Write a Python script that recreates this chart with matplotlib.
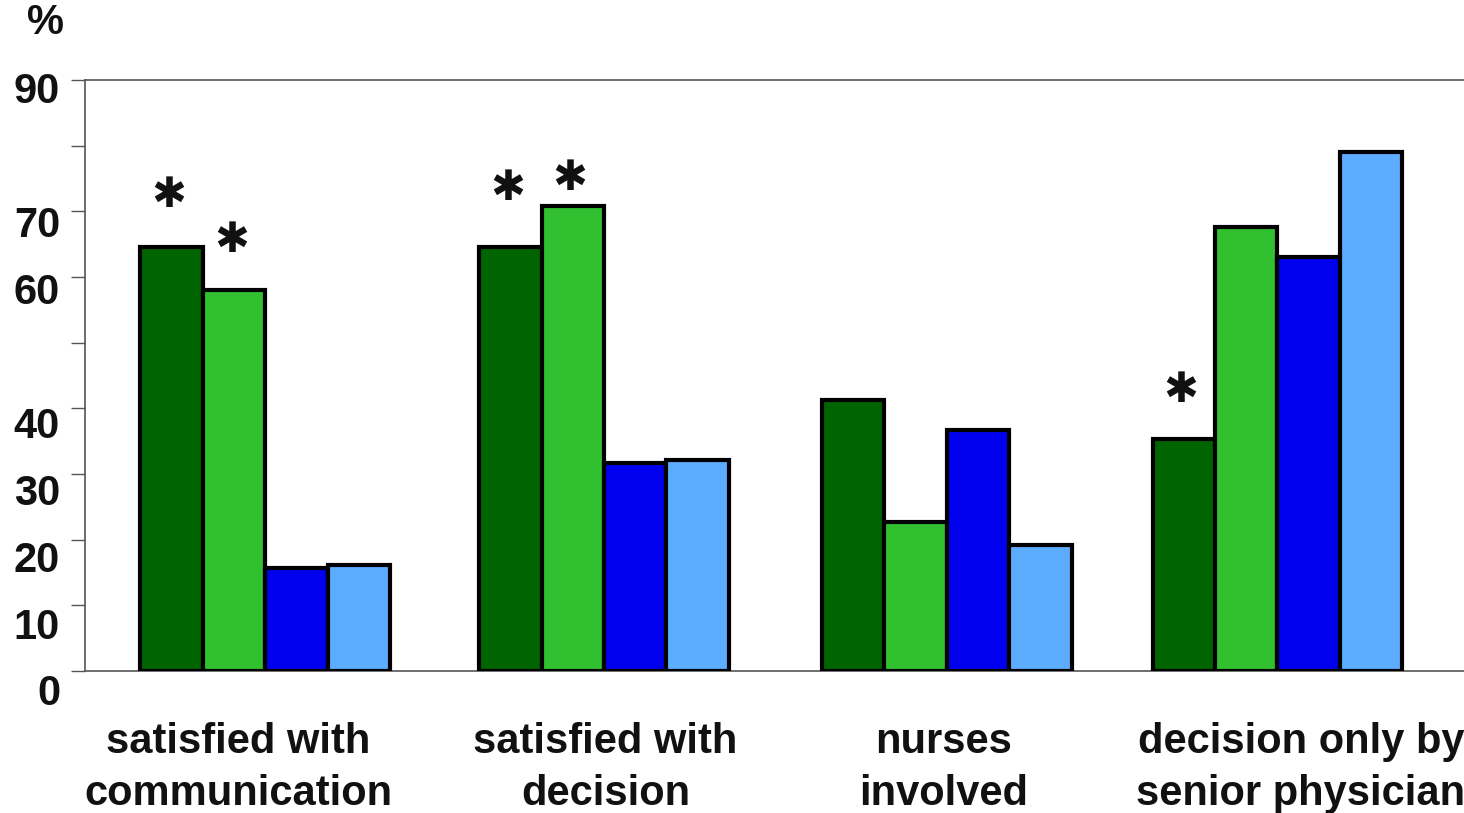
import numpy as np
import matplotlib.pyplot as plt
import matplotlib.transforms as mtransforms

### 0. Data
groups = ['satisfied with\ncommunication', 'satisfied with\ndecision',
          'nurses\ninvolved', 'decision only by\nsenior physician']
series1 = [64.6, 64.6, 41.3, 35.3]   # dark green
series2 = [58.0, 70.8, 22.7, 67.6]   # green
series3 = [15.7, 31.7, 36.7, 63.0]   # blue
series4 = [16.1, 32.1, 19.2, 79.0]   # light blue
# asterisks: (group, series, height)
star_group = [0, 0, 1, 1, 3]
star_series = [0, 1, 0, 1, 0]
star_y = [72.5, 65.6, 73.5, 75.1, 42.8]
yticks = [0, 10, 20, 30, 40, 50, 60, 70, 80, 90]
ytick_labels = ['0', '10', '20', '30', '40', '', '60', '70', '', '90']

### 1. Styles
colors = ['#006400', '#30C030', '#0000EE', '#5CACFF']
w = 0.185
font = 'Liberation Sans'
fs = 30
group_dx = [0.0, 0.004, 0.02, 0.0]
label_dx = [-0.08, 0.008, 0.01, 0.07]

### 2. Plot
fig = plt.figure(figsize=(14.64, 8.13), dpi=100)
ax = fig.add_axes([0.0581, 0.1747, 1.05 - 0.0581, 0.7269])

x = np.arange(len(groups)) + np.array(group_dx)
allseries = [series1, series2, series3, series4]
for k, s in enumerate(allseries):
    ax.bar(x + (k - 1.5) * w, s, width=w, color=colors[k],
           edgecolor='black', linewidth=3, zorder=3)

for g, s, yy in zip(star_group, star_series, star_y):
    ax.text(x[g] + (s - 1.5) * w - 0.008, yy, '\u2731', ha='center', va='center',
            fontsize=30, family='DejaVu Sans', color='#111111')

ax.set_xlim(-0.534, 3.77)
ax.set_ylim(0, 90)
ax.set_yticks(yticks)
ax.set_yticklabels(ytick_labels, fontsize=fs, fontweight='bold', family=font,
                   color='#111111')
ax.tick_params(axis='y', direction='out', length=10, width=1, color='#555555',
               pad=8)
for v, lab in zip(yticks, ax.get_yticklabels()):
    off = 8 + (90 - v) / 90 * 11
    lab.set_transform(lab.get_transform() +
                      mtransforms.ScaledTranslation(0, -off / 100, fig.dpi_scale_trans))
ax.set_xticks([])

for side in ['left', 'top', 'bottom']:
    ax.spines[side].set_color('#555555')
    ax.spines[side].set_linewidth(1.2)
ax.spines['right'].set_visible(False)

for i, g in enumerate(groups):
    ax.text(i + label_dx[i], -7.8, g, ha='center', va='top', fontsize=fs,
            fontweight='bold', family=font, color='#111111', linespacing=1.38,
            clip_on=False)

fig.text(0.031, 0.972, '%', ha='center', va='center', fontsize=fs,
         fontweight='bold', family=font, color='#111111')

fig.savefig('out.png', dpi=100)
